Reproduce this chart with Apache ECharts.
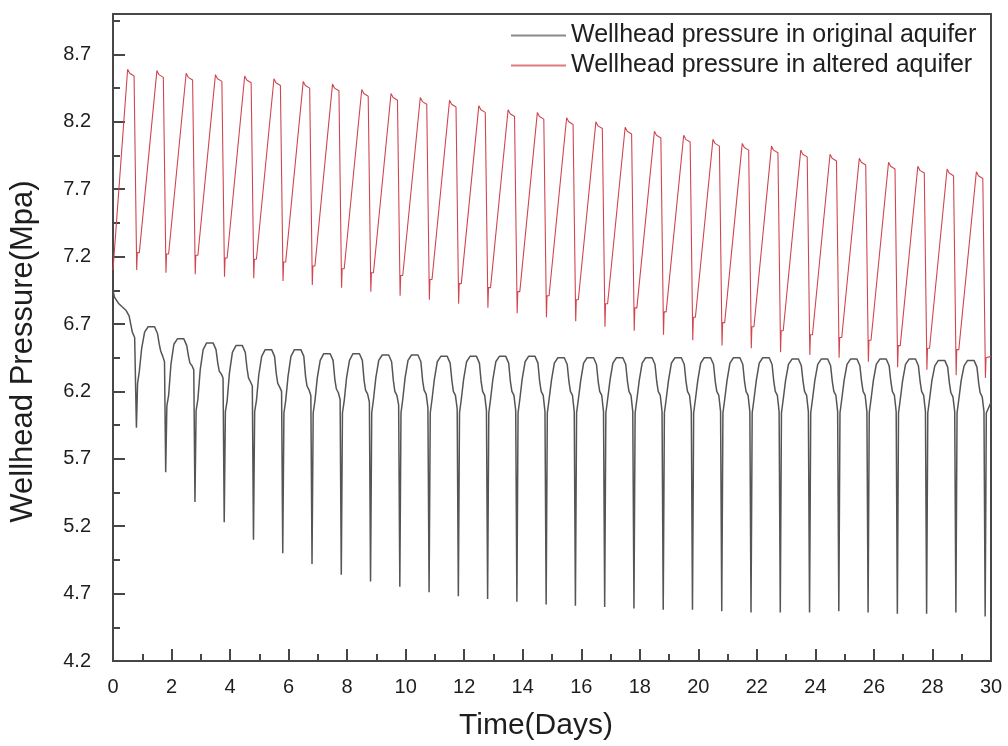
<!DOCTYPE html>
<html>
<head>
<meta charset="utf-8">
<title>Wellhead pressure</title>
<script src="https://cdn.jsdelivr.net/npm/echarts@6/dist/echarts.min.js"></script>
<style>
  html, body { margin: 0; padding: 0; background: #ffffff; }
  #chart { width: 1008px; height: 746px; }
</style>
</head>
<body>
<div id="chart"></div>
<script>
// Axis ticks (MPa on the left, days along the bottom)
const yMajorTicks = [4.2, 4.7, 5.2, 5.7, 6.2, 6.7, 7.2, 7.7, 8.2, 8.7];
const yMinorTicks = [4.45, 4.95, 5.45, 5.95, 6.45, 6.95, 7.45, 7.95, 8.45, 8.95];
const xTickLabels = [0, 2, 4, 6, 8, 10, 12, 14, 16, 18, 20, 22, 24, 26, 28, 30];

// Wellhead pressure in the original aquifer, [day, MPa]
const originalAquifer = [
  [0.00,6.95],[0.05,6.90],[0.20,6.85],[0.45,6.80],[0.55,6.76],[0.66,6.64],[0.74,6.60],[0.80,5.93],
  [0.84,6.26],[0.90,6.35],[0.98,6.52],[1.08,6.64],[1.20,6.68],[1.42,6.68],[1.52,6.63],[1.58,6.55],[1.63,6.50],[1.70,6.46],[1.76,6.42],[1.80,5.60],
  [1.84,6.09],[1.90,6.17],[1.98,6.40],[2.08,6.55],[2.20,6.59],[2.42,6.59],[2.52,6.54],[2.58,6.46],[2.63,6.41],[2.70,6.39],[2.76,6.36],[2.80,5.38],
  [2.84,6.06],[2.90,6.14],[2.98,6.36],[3.08,6.51],[3.20,6.56],[3.42,6.56],[3.52,6.51],[3.58,6.41],[3.63,6.35],[3.70,6.33],[3.76,6.30],[3.80,5.23],
  [3.84,6.05],[3.90,6.13],[3.98,6.34],[4.08,6.49],[4.20,6.54],[4.42,6.54],[4.52,6.49],[4.58,6.37],[4.63,6.30],[4.70,6.27],[4.76,6.24],[4.80,5.10],
  [4.84,6.05],[4.90,6.13],[4.98,6.32],[5.08,6.46],[5.20,6.51],[5.42,6.51],[5.52,6.46],[5.58,6.33],[5.63,6.26],[5.70,6.23],[5.76,6.20],[5.80,5.00],
  [5.84,6.04],[5.90,6.13],[5.98,6.31],[6.08,6.46],[6.20,6.51],[6.42,6.51],[6.52,6.46],[6.58,6.31],[6.63,6.24],[6.70,6.21],[6.76,6.17],[6.80,4.92],
  [6.84,6.04],[6.90,6.13],[6.98,6.30],[7.08,6.43],[7.20,6.48],[7.42,6.48],[7.52,6.43],[7.58,6.29],[7.63,6.22],[7.70,6.19],[7.76,6.14],[7.80,4.84],
  [7.84,6.04],[7.90,6.13],[7.98,6.30],[8.08,6.43],[8.20,6.48],[8.42,6.48],[8.52,6.43],[8.58,6.28],[8.63,6.21],[8.70,6.18],[8.76,6.12],[8.80,4.79],
  [8.84,6.04],[8.90,6.14],[8.98,6.30],[9.08,6.43],[9.20,6.47],[9.42,6.47],[9.52,6.42],[9.58,6.28],[9.63,6.20],[9.70,6.17],[9.76,6.10],[9.80,4.75],
  [9.84,6.04],[9.90,6.14],[9.98,6.30],[10.08,6.43],[10.20,6.47],[10.42,6.47],[10.52,6.42],[10.58,6.28],[10.63,6.21],[10.70,6.18],[10.76,6.08],[10.80,4.71],
  [10.84,6.04],[10.90,6.14],[10.98,6.29],[11.08,6.42],[11.20,6.46],[11.42,6.46],[11.52,6.41],[11.58,6.28],[11.63,6.20],[11.70,6.17],[11.76,6.07],[11.80,4.68],
  [11.84,6.04],[11.90,6.14],[11.98,6.29],[12.08,6.42],[12.20,6.46],[12.42,6.46],[12.52,6.41],[12.58,6.27],[12.63,6.20],[12.70,6.17],[12.76,6.06],[12.80,4.66],
  [12.84,6.04],[12.90,6.14],[12.98,6.29],[13.08,6.42],[13.20,6.46],[13.42,6.46],[13.52,6.41],[13.58,6.27],[13.63,6.20],[13.70,6.17],[13.76,6.06],[13.80,4.64],
  [13.84,6.04],[13.90,6.14],[13.98,6.29],[14.08,6.42],[14.20,6.46],[14.42,6.46],[14.52,6.41],[14.58,6.27],[14.63,6.20],[14.70,6.17],[14.76,6.05],[14.80,4.62],
  [14.84,6.04],[14.90,6.14],[14.98,6.28],[15.08,6.41],[15.20,6.45],[15.42,6.45],[15.52,6.40],[15.58,6.27],[15.63,6.20],[15.70,6.17],[15.76,6.05],[15.80,4.61],
  [15.84,6.04],[15.90,6.14],[15.98,6.28],[16.08,6.41],[16.20,6.45],[16.42,6.45],[16.52,6.40],[16.58,6.27],[16.63,6.20],[16.70,6.17],[16.76,6.05],[16.80,4.60],
  [16.84,6.04],[16.90,6.14],[16.98,6.28],[17.08,6.41],[17.20,6.45],[17.42,6.45],[17.52,6.40],[17.58,6.27],[17.63,6.20],[17.70,6.17],[17.76,6.05],[17.80,4.59],
  [17.84,6.04],[17.90,6.14],[17.98,6.28],[18.08,6.41],[18.20,6.45],[18.42,6.45],[18.52,6.40],[18.58,6.27],[18.63,6.20],[18.70,6.17],[18.76,6.05],[18.80,4.58],
  [18.84,6.04],[18.90,6.14],[18.98,6.28],[19.08,6.41],[19.20,6.45],[19.42,6.45],[19.52,6.40],[19.58,6.27],[19.63,6.20],[19.70,6.17],[19.76,6.05],[19.80,4.58],
  [19.84,6.04],[19.90,6.14],[19.98,6.28],[20.08,6.41],[20.20,6.45],[20.42,6.45],[20.52,6.40],[20.58,6.27],[20.63,6.20],[20.70,6.17],[20.76,6.05],[20.80,4.57],
  [20.84,6.04],[20.90,6.14],[20.98,6.28],[21.08,6.41],[21.20,6.45],[21.42,6.45],[21.52,6.40],[21.58,6.27],[21.63,6.20],[21.70,6.17],[21.76,6.05],[21.80,4.56],
  [21.84,6.04],[21.90,6.14],[21.98,6.28],[22.08,6.41],[22.20,6.45],[22.42,6.45],[22.52,6.40],[22.58,6.27],[22.63,6.20],[22.70,6.17],[22.76,6.05],[22.80,4.56],
  [22.84,6.04],[22.90,6.14],[22.98,6.28],[23.08,6.40],[23.20,6.44],[23.42,6.44],[23.52,6.39],[23.58,6.27],[23.63,6.20],[23.70,6.17],[23.76,6.05],[23.80,4.56],
  [23.84,6.04],[23.90,6.14],[23.98,6.28],[24.08,6.40],[24.20,6.44],[24.42,6.44],[24.52,6.39],[24.58,6.27],[24.63,6.20],[24.70,6.17],[24.76,6.05],[24.80,4.57],
  [24.84,6.04],[24.90,6.14],[24.98,6.28],[25.08,6.40],[25.20,6.44],[25.42,6.44],[25.52,6.39],[25.58,6.27],[25.63,6.20],[25.70,6.17],[25.76,6.05],[25.80,4.56],
  [25.84,6.04],[25.90,6.14],[25.98,6.28],[26.08,6.40],[26.20,6.44],[26.42,6.44],[26.52,6.39],[26.58,6.27],[26.63,6.20],[26.70,6.17],[26.76,6.05],[26.80,4.55],
  [26.84,6.04],[26.90,6.14],[26.98,6.28],[27.08,6.40],[27.20,6.44],[27.42,6.44],[27.52,6.39],[27.58,6.27],[27.63,6.20],[27.70,6.17],[27.76,6.05],[27.80,4.55],
  [27.84,6.04],[27.90,6.14],[27.98,6.28],[28.08,6.39],[28.20,6.43],[28.42,6.43],[28.52,6.38],[28.58,6.26],[28.63,6.19],[28.70,6.16],[28.76,6.05],[28.80,4.56],
  [28.84,6.04],[28.90,6.14],[28.98,6.28],[29.08,6.39],[29.20,6.43],[29.42,6.43],[29.52,6.38],[29.58,6.26],[29.63,6.19],[29.70,6.16],[29.76,6.05],[29.80,4.53],
  [29.84,6.04],[30.00,6.12]
];

// Wellhead pressure in the altered aquifer, [day, MPa]
const alteredAquifer = [
  [0.00,7.10],
  [0.50,8.59],[0.57,8.56],[0.72,8.54],[0.81,7.10],[0.83,7.23],[0.90,7.23],
  [1.50,8.58],[1.57,8.55],[1.72,8.53],[1.81,7.08],[1.83,7.22],[1.90,7.22],
  [2.50,8.56],[2.57,8.53],[2.72,8.51],[2.81,7.07],[2.83,7.21],[2.90,7.21],
  [3.50,8.55],[3.57,8.52],[3.72,8.50],[3.81,7.05],[3.83,7.19],[3.90,7.19],
  [4.50,8.54],[4.57,8.51],[4.72,8.49],[4.81,7.04],[4.83,7.18],[4.90,7.18],
  [5.50,8.52],[5.57,8.49],[5.72,8.47],[5.81,7.02],[5.83,7.16],[5.90,7.16],
  [6.50,8.50],[6.57,8.47],[6.72,8.45],[6.81,6.99],[6.83,7.13],[6.90,7.13],
  [7.50,8.48],[7.57,8.45],[7.72,8.43],[7.81,6.97],[7.83,7.11],[7.90,7.11],
  [8.50,8.44],[8.57,8.41],[8.72,8.39],[8.81,6.94],[8.83,7.08],[8.90,7.08],
  [9.50,8.41],[9.57,8.38],[9.72,8.36],[9.81,6.91],[9.83,7.06],[9.90,7.06],
  [10.50,8.38],[10.57,8.35],[10.72,8.33],[10.81,6.88],[10.83,7.03],[10.90,7.03],
  [11.50,8.36],[11.57,8.33],[11.72,8.31],[11.81,6.85],[11.83,7.00],[11.90,7.00],
  [12.50,8.32],[12.57,8.29],[12.72,8.27],[12.81,6.82],[12.83,6.97],[12.90,6.97],
  [13.50,8.29],[13.57,8.26],[13.72,8.24],[13.81,6.78],[13.83,6.94],[13.90,6.94],
  [14.50,8.27],[14.57,8.24],[14.72,8.22],[14.81,6.75],[14.83,6.91],[14.90,6.91],
  [15.50,8.23],[15.57,8.20],[15.72,8.18],[15.81,6.72],[15.83,6.88],[15.90,6.88],
  [16.50,8.20],[16.57,8.17],[16.72,8.15],[16.81,6.68],[16.83,6.85],[16.90,6.85],
  [17.50,8.16],[17.57,8.13],[17.72,8.11],[17.81,6.65],[17.83,6.82],[17.90,6.82],
  [18.50,8.13],[18.57,8.10],[18.72,8.08],[18.81,6.62],[18.83,6.79],[18.90,6.79],
  [19.50,8.10],[19.57,8.07],[19.72,8.05],[19.81,6.58],[19.83,6.75],[19.90,6.75],
  [20.50,8.07],[20.57,8.04],[20.72,8.02],[20.81,6.54],[20.83,6.71],[20.90,6.71],
  [21.50,8.04],[21.57,8.01],[21.72,7.99],[21.81,6.52],[21.83,6.68],[21.90,6.68],
  [22.50,8.02],[22.57,7.99],[22.72,7.97],[22.81,6.49],[22.83,6.65],[22.90,6.65],
  [23.50,7.99],[23.57,7.96],[23.72,7.94],[23.81,6.47],[23.83,6.62],[23.90,6.62],
  [24.50,7.96],[24.57,7.93],[24.72,7.91],[24.81,6.45],[24.83,6.60],[24.90,6.60],
  [25.50,7.93],[25.57,7.90],[25.72,7.88],[25.81,6.42],[25.83,6.58],[25.90,6.58],
  [26.50,7.90],[26.57,7.87],[26.72,7.85],[26.81,6.38],[26.83,6.54],[26.90,6.54],
  [27.50,7.87],[27.57,7.84],[27.72,7.82],[27.81,6.36],[27.83,6.52],[27.90,6.52],
  [28.50,7.85],[28.57,7.82],[28.72,7.80],[28.81,6.32],[28.83,6.51],[28.90,6.51],
  [29.50,7.83],[29.57,7.80],[29.72,7.78],[29.81,6.30],[29.83,6.45],[30.00,6.46]
];

const FONT = "'Liberation Sans', Arial, Helvetica, sans-serif";
const AXIS_COLOR = '#474747';
const TEXT_COLOR = '#1e1e1e';

const chart = echarts.init(document.getElementById('chart'), null, { renderer: 'canvas' });

chart.setOption({
  animation: false,
  backgroundColor: '#ffffff',
  grid: {
    left: 112, right: 17, top: 14, bottom: 84,
    show: true, borderColor: AXIS_COLOR, borderWidth: 2, backgroundColor: 'transparent'
  },
  legend: {
    orient: 'vertical',
    left: 506, top: 18,
    icon: 'rect',
    itemWidth: 55, itemHeight: 2, itemGap: 5,
    textStyle: { fontFamily: FONT, fontSize: 25, color: TEXT_COLOR },
    data: ['Wellhead pressure in original aquifer', 'Wellhead pressure in altered aquifer']
  },
  xAxis: {
    type: 'value',
    min: 0, max: 30, interval: 2,
    name: 'Time(Days)',
    nameLocation: 'middle', nameGap: 50,
    nameTextStyle: { fontFamily: FONT, fontSize: 30, color: TEXT_COLOR, padding: [0, 32, 0, 0] },
    axisLine: { show: true, lineStyle: { color: AXIS_COLOR, width: 2 } },
    axisTick: { show: true, inside: true, length: 12, lineStyle: { color: AXIS_COLOR, width: 2 } },
    minorTick: { show: true, splitNumber: 2, length: 7, lineStyle: { color: AXIS_COLOR, width: 2 } },
    splitLine: { show: false },
    minorSplitLine: { show: false },
    axisLabel: {
      margin: 16, fontFamily: FONT, fontSize: 20, color: TEXT_COLOR,
      formatter: v => (xTickLabels.indexOf(v) >= 0 ? String(v) : '')
    }
  },
  yAxis: [
    {
      type: 'value',
      min: 4.2, max: 9.0,
      name: 'Wellhead Pressure(Mpa)',
      nameLocation: 'middle', nameGap: 74, nameRotate: 90,
      nameTextStyle: { fontFamily: FONT, fontSize: 31, color: TEXT_COLOR, padding: [0, 28, 0, 0] },
      axisLine: { show: true, lineStyle: { color: AXIS_COLOR, width: 2 } },
      axisTick: { show: true, inside: true, length: 12, customValues: yMajorTicks, lineStyle: { color: AXIS_COLOR, width: 2 } },
      splitLine: { show: false },
      axisLabel: {
        margin: 22, fontFamily: FONT, fontSize: 20, color: TEXT_COLOR,
        customValues: yMajorTicks,
        formatter: v => v.toFixed(1)
      }
    },
    {
      type: 'value',
      min: 4.2, max: 9.0,
      position: 'left',
      axisLine: { show: false },
      axisTick: { show: true, inside: true, length: 7, customValues: yMinorTicks, lineStyle: { color: AXIS_COLOR, width: 2 } },
      axisLabel: { show: false },
      splitLine: { show: false }
    }
  ],
  series: [
    {
      name: 'Wellhead pressure in original aquifer',
      type: 'line',
      data: originalAquifer,
      symbol: 'none', showSymbol: false,
      lineStyle: { color: '#555555', width: 1.5 },
      itemStyle: { color: '#8a8a8a' },
      z: 2
    },
    {
      name: 'Wellhead pressure in altered aquifer',
      type: 'line',
      data: alteredAquifer,
      symbol: 'none', showSymbol: false,
      lineStyle: { color: '#d0454f', width: 1.1 },
      itemStyle: { color: '#e07a80' },
      z: 3
    }
  ]
});
</script>
</body>
</html>
